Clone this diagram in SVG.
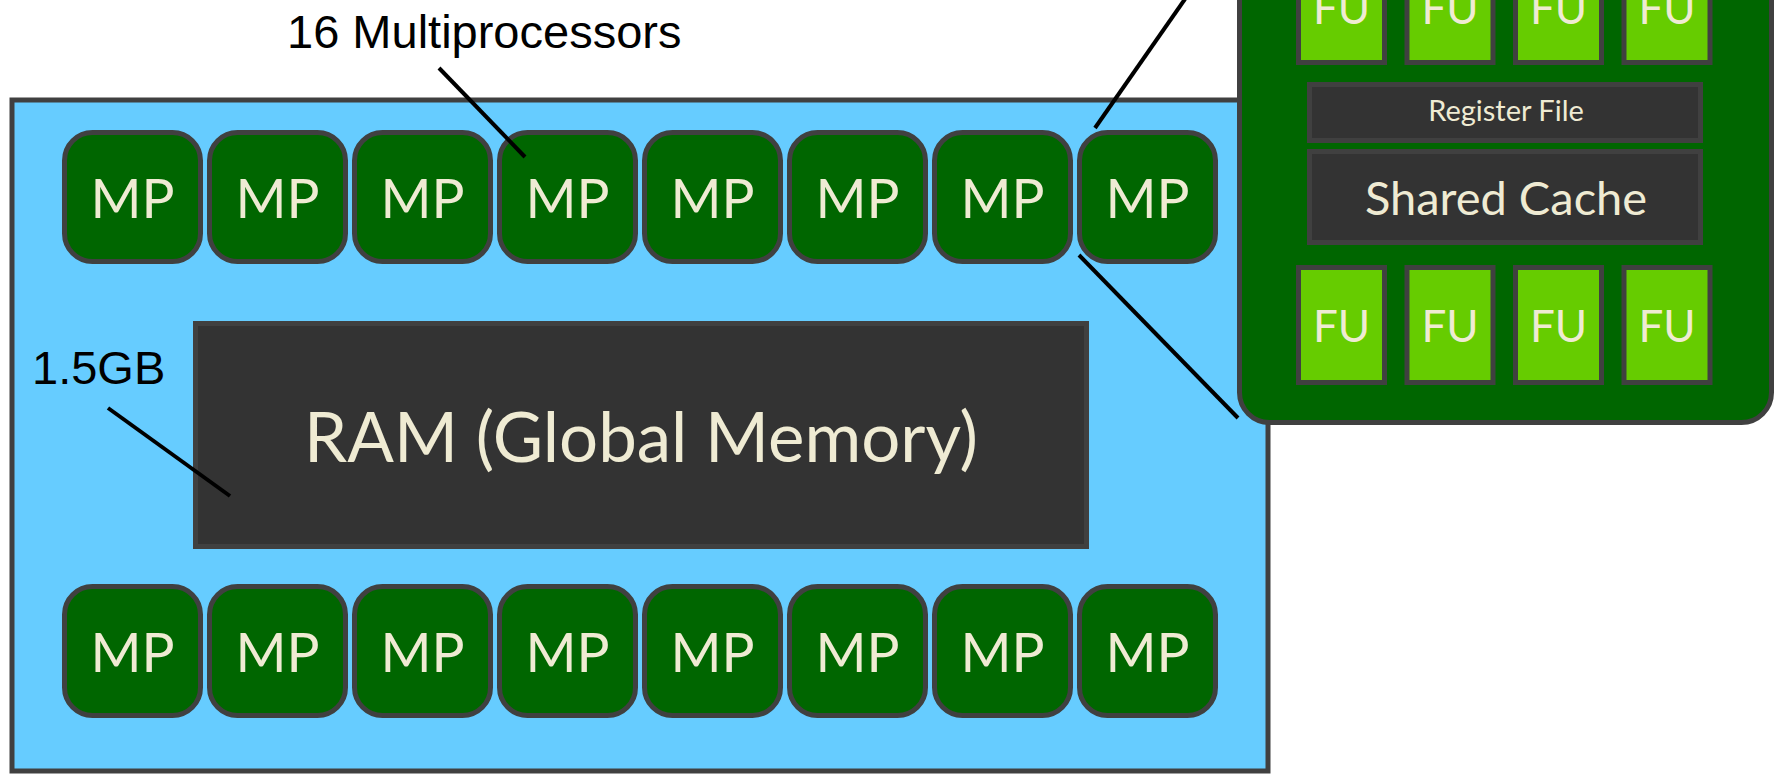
<svg xmlns="http://www.w3.org/2000/svg" width="1775" height="774" viewBox="0 0 1775 774">
<style>
.mp{fill:#006600;stroke:#404040;stroke-width:5}
.dark{fill:#333333;stroke:#404040;stroke-width:5}
.fu{fill:#66CC00;stroke:#404040;stroke-width:5}
.lbl{fill:#EFEBD3;font-family:Lato,"Open Sans",sans-serif;text-anchor:middle}
.mpt{font-size:55px}
.fut{font-size:44px}
.ann{fill:#000;font-family:"Liberation Sans",Arial,sans-serif;font-size:47px}
.ln{stroke:#000;stroke-width:4;fill:none}
</style>
<rect width="1775" height="774" fill="#ffffff"/>
<g id="gpu">
<rect x="12" y="100" width="1256" height="671" fill="#66CCFF" stroke="#404040" stroke-width="5"/>
</g>
<g id="ram">
<rect class="dark" x="195.5" y="323.5" width="891" height="223"/>
<text class="lbl" x="641" y="462" font-size="69">RAM (Global Memory)</text>
</g>
<g id="mp-top">
<g id="mp1"><rect class="mp" x="64.5" y="132.5" width="136" height="129" rx="28"/><text class="lbl mpt" x="132.5" y="218">MP</text></g>
<g id="mp2"><rect class="mp" x="209.5" y="132.5" width="136" height="129" rx="28"/><text class="lbl mpt" x="277.5" y="218">MP</text></g>
<g id="mp3"><rect class="mp" x="354.5" y="132.5" width="136" height="129" rx="28"/><text class="lbl mpt" x="422.5" y="218">MP</text></g>
<g id="mp4"><rect class="mp" x="499.5" y="132.5" width="136" height="129" rx="28"/><text class="lbl mpt" x="567.5" y="218">MP</text></g>
<g id="mp5"><rect class="mp" x="644.5" y="132.5" width="136" height="129" rx="28"/><text class="lbl mpt" x="712.5" y="218">MP</text></g>
<g id="mp6"><rect class="mp" x="789.5" y="132.5" width="136" height="129" rx="28"/><text class="lbl mpt" x="857.5" y="218">MP</text></g>
<g id="mp7"><rect class="mp" x="934.5" y="132.5" width="136" height="129" rx="28"/><text class="lbl mpt" x="1002.5" y="218">MP</text></g>
<g id="mp8"><rect class="mp" x="1079.5" y="132.5" width="136" height="129" rx="28"/><text class="lbl mpt" x="1147.5" y="218">MP</text></g>
</g>
<g id="mp-bottom">
<g id="mp9"><rect class="mp" x="64.5" y="586.5" width="136" height="129" rx="28"/><text class="lbl mpt" x="132.5" y="672">MP</text></g>
<g id="mp10"><rect class="mp" x="209.5" y="586.5" width="136" height="129" rx="28"/><text class="lbl mpt" x="277.5" y="672">MP</text></g>
<g id="mp11"><rect class="mp" x="354.5" y="586.5" width="136" height="129" rx="28"/><text class="lbl mpt" x="422.5" y="672">MP</text></g>
<g id="mp12"><rect class="mp" x="499.5" y="586.5" width="136" height="129" rx="28"/><text class="lbl mpt" x="567.5" y="672">MP</text></g>
<g id="mp13"><rect class="mp" x="644.5" y="586.5" width="136" height="129" rx="28"/><text class="lbl mpt" x="712.5" y="672">MP</text></g>
<g id="mp14"><rect class="mp" x="789.5" y="586.5" width="136" height="129" rx="28"/><text class="lbl mpt" x="857.5" y="672">MP</text></g>
<g id="mp15"><rect class="mp" x="934.5" y="586.5" width="136" height="129" rx="28"/><text class="lbl mpt" x="1002.5" y="672">MP</text></g>
<g id="mp16"><rect class="mp" x="1079.5" y="586.5" width="136" height="129" rx="28"/><text class="lbl mpt" x="1147.5" y="672">MP</text></g>
</g>
<g id="mp-detail">
<rect class="mp" x="1239.5" y="-60" width="532" height="482.5" rx="30"/>
<g id="fu1"><rect class="fu" x="1298.5" y="-53" width="86" height="115.5"/><text class="lbl fut" x="1341.5" y="24">FU</text></g>
<g id="fu2"><rect class="fu" x="1407" y="-53" width="86" height="115.5"/><text class="lbl fut" x="1450" y="24">FU</text></g>
<g id="fu3"><rect class="fu" x="1515.5" y="-53" width="86" height="115.5"/><text class="lbl fut" x="1558.5" y="24">FU</text></g>
<g id="fu4"><rect class="fu" x="1624" y="-53" width="86" height="115.5"/><text class="lbl fut" x="1667" y="24">FU</text></g>
<g id="regfile"><rect class="dark" x="1309.5" y="84.5" width="391" height="56"/><text class="lbl" x="1506" y="121" font-size="29">Register File</text></g>
<g id="shared"><rect class="dark" x="1309.5" y="151.5" width="391" height="91"/><text class="lbl" x="1506" y="215" font-size="47">Shared Cache</text></g>
<g id="fu5"><rect class="fu" x="1298.5" y="267.5" width="86" height="115"/><text class="lbl fut" x="1341.5" y="342">FU</text></g>
<g id="fu6"><rect class="fu" x="1407" y="267.5" width="86" height="115"/><text class="lbl fut" x="1450" y="342">FU</text></g>
<g id="fu7"><rect class="fu" x="1515.5" y="267.5" width="86" height="115"/><text class="lbl fut" x="1558.5" y="342">FU</text></g>
<g id="fu8"><rect class="fu" x="1624" y="267.5" width="86" height="115"/><text class="lbl fut" x="1667" y="342">FU</text></g>
</g>
<g id="labels">
<text class="ann" x="287" y="48">16 Multiprocessors</text>
<text class="ann" x="32" y="384" font-size="46.5">1.5GB</text>
</g>
<g id="connectors">
<line class="ln" x1="439" y1="68" x2="525" y2="157"/>
<line class="ln" x1="108" y1="408" x2="230" y2="496"/>
<line class="ln" x1="1095" y1="128" x2="1185" y2="-1"/>
<line class="ln" x1="1079" y1="255" x2="1238" y2="418"/>
</g>
</svg>
